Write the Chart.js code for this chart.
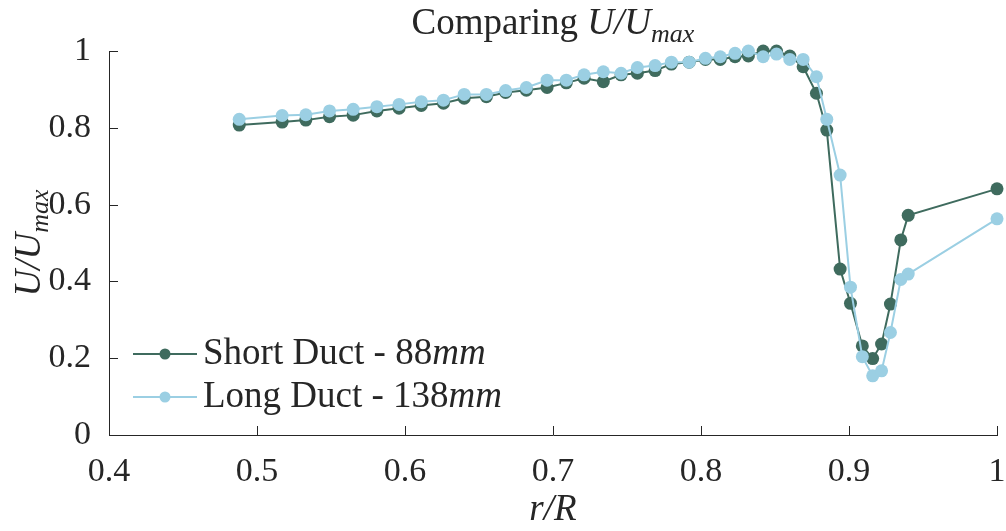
<!DOCTYPE html>
<html lang="en">
  <head>
    <meta charset="UTF-8" />
    <title>Comparing U/Umax</title>
    <script src="https://cdn.jsdelivr.net/npm/chart.js"></script>
    <style>
      html, body { margin: 0; padding: 0; background: #fff; }
      #wrap { width: 1006px; height: 531px; }
    </style>
  </head>
  <body>
    <div id="wrap"><canvas id="ductChart"></canvas></div>

    <script>
      // r/R positions shared by both runs
      const rR = [0.488, 0.517, 0.533, 0.549, 0.565, 0.581, 0.596, 0.611, 0.626, 0.640,
                  0.655, 0.668, 0.682, 0.696, 0.709, 0.721, 0.734, 0.746, 0.757, 0.769,
                  0.780, 0.792, 0.803, 0.813, 0.823, 0.832, 0.842, 0.851, 0.860, 0.869,
                  0.878, 0.885, 0.894, 0.901, 0.909, 0.916, 0.922, 0.928, 0.935, 0.940, 1.0];

      // U/Umax, short duct (88mm)
      const shortDuct = [0.807, 0.815, 0.820, 0.829, 0.833, 0.844, 0.851, 0.858, 0.864, 0.877,
                         0.881, 0.892, 0.898, 0.905, 0.917, 0.929, 0.920, 0.938, 0.942, 0.949,
                         0.966, 0.971, 0.978, 0.978, 0.985, 0.987, 1.000, 1.000, 0.987, 0.959,
                         0.890, 0.794, 0.432, 0.343, 0.232, 0.199, 0.237, 0.341, 0.508, 0.572, 0.641];

      // U/Umax, long duct (138mm)
      const longDuct = [0.822, 0.832, 0.834, 0.844, 0.848, 0.855, 0.861, 0.868, 0.872, 0.887,
                        0.887, 0.897, 0.905, 0.924, 0.924, 0.938, 0.946, 0.942, 0.957, 0.962,
                        0.971, 0.971, 0.981, 0.985, 0.994, 1.000, 0.985, 0.992, 0.978, 0.978,
                        0.933, 0.822, 0.677, 0.385, 0.204, 0.154, 0.167, 0.267, 0.405, 0.419, 0.563];

      const xTicks = [0.4, 0.5, 0.6, 0.7, 0.8, 0.9, 1];
      const yTicks = [0, 0.2, 0.4, 0.6, 0.8, 1];

      const DARK = "#3f6b5e";
      const LIGHT = "#9bcfe3";
      const INK = "#262626";
      const SERIF = "'Liberation Serif', 'DejaVu Serif', serif";

      // draw a line of text made of runs (normal / italic / subscript)
      function drawRuns(ctx, runs, x, y, size, align) {
        const fontOf = (r) => (r.italic ? "italic " : "") + Math.round(r.sub ? size * 0.7 : size) + "px " + SERIF;
        let total = 0;
        runs.forEach((r) => { ctx.font = fontOf(r); total += ctx.measureText(r.t).width; });
        let cx = align === "center" ? x - total / 2 : x;
        ctx.textAlign = "left";
        ctx.textBaseline = "alphabetic";
        runs.forEach((r) => {
          ctx.font = fontOf(r);
          ctx.fillText(r.t, cx, r.sub ? y + size * 0.22 : y);
          cx += ctx.measureText(r.t).width;
        });
      }

      const uOverUmax = [
        { t: "U/U", italic: true },
        { t: "max", italic: true, sub: true },
      ];

      const decorations = {
        id: "decorations",
        afterDraw(chart) {
          const { ctx, chartArea, scales } = chart;
          ctx.save();
          ctx.fillStyle = INK;
          ctx.strokeStyle = INK;
          ctx.lineWidth = 1;

          // inward ticks
          ctx.beginPath();
          xTicks.forEach((v) => {
            const px = Math.round(scales.x.getPixelForValue(v)) + 0.5;
            ctx.moveTo(px, chartArea.bottom);
            ctx.lineTo(px, chartArea.bottom - 9);
          });
          yTicks.forEach((v) => {
            const py = Math.round(scales.y.getPixelForValue(v)) + 0.5;
            ctx.moveTo(chartArea.left, py);
            ctx.lineTo(chartArea.left + 9, py);
          });
          ctx.stroke();

          // title
          drawRuns(ctx, [{ t: "Comparing " }].concat(uOverUmax),
            (chartArea.left + chartArea.right) / 2, 34, 37, "center");

          // x axis title
          drawRuns(ctx, [{ t: "r/R", italic: true }],
            (chartArea.left + chartArea.right) / 2, 520, 37, "center");

          // y axis title (rotated)
          ctx.save();
          ctx.translate(40, (chartArea.top + chartArea.bottom) / 2);
          ctx.rotate(-Math.PI / 2);
          drawRuns(ctx, uOverUmax, 0, 0, 37, "center");
          ctx.restore();

          // legend
          const rows = [
            { color: DARK, runs: [{ t: "Short Duct - 88" }, { t: "mm", italic: true }], y: 354 },
            { color: LIGHT, runs: [{ t: "Long Duct - 138" }, { t: "mm", italic: true }], y: 397 },
          ];
          rows.forEach((row) => {
            ctx.strokeStyle = row.color;
            ctx.fillStyle = row.color;
            ctx.lineWidth = 2;
            ctx.beginPath();
            ctx.moveTo(133, row.y);
            ctx.lineTo(197, row.y);
            ctx.stroke();
            ctx.beginPath();
            ctx.arc(165, row.y, 5.5, 0, Math.PI * 2);
            ctx.fill();
            ctx.fillStyle = INK;
            drawRuns(ctx, row.runs, 203, row.y + 10, 37, "left");
          });
          ctx.restore();
        },
      };

      const ctx = document.getElementById("ductChart").getContext("2d");
      new Chart(ctx, {
        type: "line",
        data: {
          datasets: [
            {
              label: "Short Duct - 88mm",
              data: rR.map((x, i) => ({ x: x, y: shortDuct[i] })),
              borderColor: DARK,
              backgroundColor: DARK,
              pointBackgroundColor: DARK,
              borderWidth: 2,
              pointRadius: 6.5,
              pointBorderWidth: 0,
              clip: false,
              order: 1,
            },
            {
              label: "Long Duct - 138mm",
              data: rR.map((x, i) => ({ x: x, y: longDuct[i] })),
              borderColor: LIGHT,
              backgroundColor: LIGHT,
              pointBackgroundColor: LIGHT,
              borderWidth: 2,
              pointRadius: 6.5,
              pointBorderWidth: 0,
              clip: false,
              order: 0,
            },
          ],
        },
        options: {
          responsive: true,
          maintainAspectRatio: false,
          animation: false,
          layout: { padding: { top: 51, right: 9, left: 0, bottom: 0 } },
          plugins: { legend: { display: false }, tooltip: { enabled: false } },
          scales: {
            x: {
              type: "linear",
              min: 0.4,
              max: 1,
              afterBuildTicks: (s) => { s.ticks = xTicks.map((v) => ({ value: v })); },
              afterFit: (s) => { s.height = 96; s.paddingLeft = 0; s.paddingRight = 0; },
              grid: { display: false },
              border: { display: true, color: INK, width: 1 },
              ticks: {
                color: INK,
                padding: 9,
                maxRotation: 0,
                font: { family: SERIF, size: 34 },
                callback: (v) => String(Number(v.toFixed(1))),
              },
            },
            y: {
              min: 0,
              max: 1,
              afterBuildTicks: (s) => { s.ticks = yTicks.map((v) => ({ value: v })); },
              afterFit: (s) => { s.width = 109; s.paddingTop = 0; s.paddingBottom = 0; },
              grid: { display: false },
              border: { display: true, color: INK, width: 1 },
              ticks: {
                color: INK,
                padding: 10,
                font: { family: SERIF, size: 34 },
                callback: (v) => String(Number(v.toFixed(1))),
              },
            },
          },
        },
        plugins: [decorations],
      });
    </script>
  </body>
</html>
